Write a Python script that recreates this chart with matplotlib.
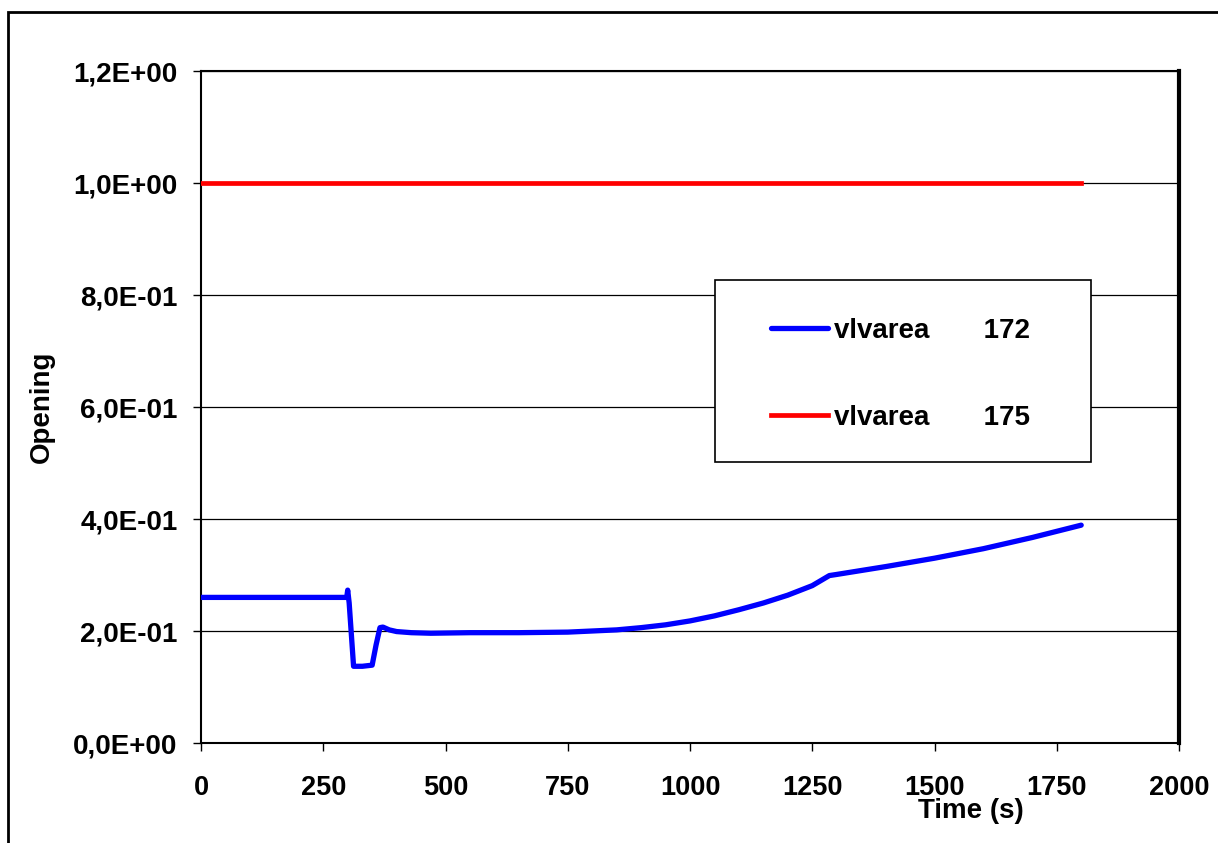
import numpy as np
import matplotlib
matplotlib.use('Agg')
import matplotlib.pyplot as plt
from matplotlib.patches import Rectangle
from matplotlib.transforms import IdentityTransform
from matplotlib.ticker import FuncFormatter

# valve 172 opening
t172 = [0, 298, 300, 303, 312, 330, 350, 358, 366, 372, 385, 400, 430, 470, 550, 650, 750,
        850, 900, 950, 1000, 1050, 1100, 1150, 1200, 1250, 1285, 1300, 1400, 1500, 1600, 1700, 1800]
v172 = [0.260, 0.260, 0.273, 0.250, 0.137, 0.137, 0.139, 0.175, 0.206, 0.207, 0.202, 0.199,
        0.197, 0.196, 0.197, 0.197, 0.198, 0.202, 0.206, 0.211, 0.218, 0.227, 0.238, 0.250,
        0.264, 0.281, 0.299, 0.301, 0.315, 0.330, 0.347, 0.367, 0.389]
# valve 175 opening
t175 = [0, 1800]
v175 = [1.0, 1.0]

xticks = [0, 250, 500, 750, 1000, 1250, 1500, 1750, 2000]
yticks = [0.0, 0.2, 0.4, 0.6, 0.8, 1.0, 1.2]
labels = ['vlvarea       172', 'vlvarea       175']

plt.rcParams['font.family'] = 'Liberation Sans'
plt.rcParams['font.weight'] = 'bold'
plt.rcParams['axes.labelweight'] = 'bold'
plt.rcParams['font.size'] = 20

fig = plt.figure(figsize=(12.18, 8.43), dpi=100)
ax = fig.add_axes([201/1218, 1-743/843, (1179-201)/1218, (743-71)/843])

# outer chart frame
fig.patches.append(Rectangle((8/1218, -0.1), 1.2, 0.1+1-12/843, transform=fig.transFigure,
                             fill=False, edgecolor='black', lw=2, zorder=0))

ax.plot(t172, v172, color='#0000ff', lw=3.8, solid_capstyle='round', label=labels[0], zorder=3)
ax.plot(t175, v175, color='#ff0000', lw=3.4, label=labels[1], zorder=3)

ax.set_xlim(0, 2000)
ax.set_ylim(0, 1.2)
ax.set_xticks(xticks)
ax.set_yticks(yticks)
ax.yaxis.set_major_formatter(FuncFormatter(lambda v, p: ('%.1E' % v).replace('.', ',')))
ax.grid(axis='y', color='black', lw=0.9)
ax.set_axisbelow(True)
ax.tick_params(direction='out', length=6, width=1)
ax.tick_params(axis='y', pad=11, labelsize=20)
ax.tick_params(axis='x', pad=17, labelsize=19.5)
for s in ax.spines.values():
    s.set_linewidth(1.5)
ax.spines['right'].set_linewidth(3)

ax.set_ylabel('Opening', fontsize=20)
ax.yaxis.set_label_coords(-0.149, 0.5)
ax.set_xlabel('Time (s)', fontsize=20)
ax.xaxis.set_label_coords(0.787, -0.082)

# legend without its own frame; the box is drawn round it with wider side padding
leg = ax.legend(loc='upper left', bbox_to_anchor=((771-201)/978, (743-318)/672),
                frameon=False, borderpad=0, labelspacing=2.2, handlelength=2.05,
                handletextpad=0.2, borderaxespad=0, fontsize=20)
leg.set_zorder(6)
fig.canvas.draw()
bb = leg.get_window_extent()
pad_l, pad_r, pad_t, pad_b = 56, 61, 38, 31
ax.add_patch(Rectangle((bb.x0 - pad_l, bb.y0 - pad_b), bb.width + pad_l + pad_r,
                       bb.height + pad_t + pad_b,
                       transform=IdentityTransform(), facecolor='white', edgecolor='black',
                       lw=1.2, zorder=5, clip_on=False))

fig.savefig('out.png', dpi=100)
